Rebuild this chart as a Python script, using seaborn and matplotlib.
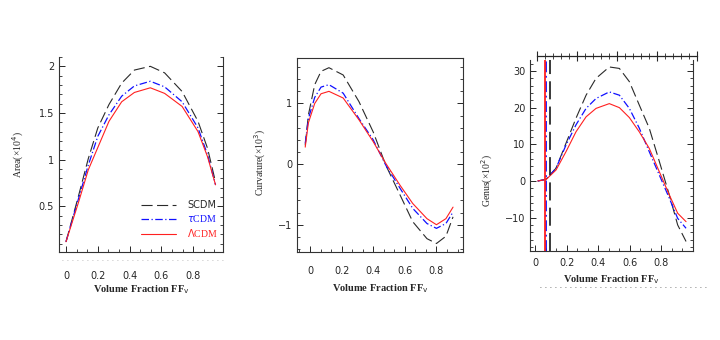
#%% Imports

import numpy as np
import pandas as pd
import matplotlib
matplotlib.use('Agg')
import matplotlib.pyplot as plt
from matplotlib.ticker import MultipleLocator, AutoMinorLocator, FixedLocator
from matplotlib.lines import Line2D
import seaborn as sns

#%% Data

models = ['SCDM', r'$\tau$CDM', r'$\Lambda$CDM']
ff_ticks = [0.0, 0.2, 0.4, 0.6, 0.8]

area_ff = [0.0, 0.08, 0.14, 0.2, 0.27, 0.35, 0.43, 0.53, 0.62, 0.73, 0.83, 0.89, 0.94]
area_scdm = [0.12, 0.62, 1.01, 1.34, 1.59, 1.82, 1.96, 2.0, 1.93, 1.73, 1.41, 1.12, 0.76]
area_tcdm = [0.12, 0.59, 0.94, 1.25, 1.48, 1.68, 1.79, 1.84, 1.78, 1.62, 1.34, 1.05, 0.73]
area_lcdm = [0.12, 0.55, 0.89, 1.13, 1.41, 1.62, 1.72, 1.77, 1.71, 1.57, 1.30, 1.03, 0.73]

curv_ff = [-0.03, -0.01, 0.03, 0.07, 0.12, 0.21, 0.31, 0.40, 0.48, 0.57, 0.65, 0.74, 0.80, 0.86, 0.905]
curv_scdm = [0.31, 0.81, 1.31, 1.53, 1.59, 1.47, 1.03, 0.53, -0.02, -0.51, -0.95, -1.23, -1.31, -1.19, -0.87]
curv_tcdm = [0.34, 0.75, 1.10, 1.27, 1.31, 1.17, 0.75, 0.40, -0.02, -0.40, -0.73, -0.98, -1.06, -0.98, -0.79]
curv_lcdm = [0.28, 0.68, 1.00, 1.16, 1.20, 1.09, 0.73, 0.37, 0.01, -0.35, -0.65, -0.90, -1.00, -0.90, -0.71]

genus_ff = [0.017, 0.07, 0.133, 0.196, 0.259, 0.323, 0.386, 0.47, 0.534, 0.597, 0.66, 0.723, 0.787, 0.85, 0.903, 0.956]
genus_scdm = [0.0, 0.5, 3.5, 10.3, 17.1, 23.4, 28.0, 31.1, 30.7, 27.1, 20.7, 14.4, 5.3, -3.8, -12.0, -16.5]
genus_tcdm = [0.0, 0.4, 3.5, 9.8, 15.3, 19.8, 22.5, 24.3, 23.4, 19.8, 14.4, 8.0, 1.6, -4.7, -10.2, -12.9]
genus_lcdm = [0.0, 0.4, 3.0, 8.0, 13.4, 17.5, 19.8, 21.1, 20.0, 17.3, 13.4, 8.9, 2.5, -3.8, -8.8, -11.1]

# vertical markers in the genus panel
genus_vlines = [0.095, 0.072, 0.063]

#%% Styles

sns.set_style('ticks')
plt.rcParams['font.family'] = ['DejaVu Sans']

colors = ['#2a2a2a', '#1010ff', '#ff2020']
styles = [(0, (10, 4)), (0, (6, 2, 1, 2)), '-']
widths = [0.8, 0.9, 0.8]
serif = 'Liberation Serif'


def draw_panel(ax, ff, series, legend = False):
    for name, vals, c, ls, lw in zip(models, series, colors, styles, widths):
        df = pd.DataFrame({'ff': ff, 'val': vals})
        sns.lineplot(data = df, x = 'ff', y = 'val', ax = ax, color = c, linestyle = ls,
                     linewidth = lw, sort = False, estimator = None, label = name if legend else None)
    ax.set_xlabel('Volume Fraction FF$_{\\rm v}$', family = serif, fontsize = 7.5, fontweight = 'bold')
    ax.tick_params(which = 'both', direction = 'in', left = True, right = True, top = False, labelsize = 7)
    ax.tick_params(which = 'major', length = 4, width = 0.7)
    ax.tick_params(which = 'minor', length = 2.5, width = 0.6)
    ax.xaxis.set_major_locator(FixedLocator(ff_ticks))
    ax.xaxis.set_minor_locator(MultipleLocator(0.2 / 3))
    ax.xaxis.set_major_formatter(plt.FuncFormatter(lambda v, p: '0' if abs(v) < 1e-9 else f'{v:.1f}'))
    for s in ax.spines.values():
        s.set_linewidth(0.8)
        s.set_color('#333333')


fig = plt.figure(figsize = (7.2, 3.4), dpi = 100)

#%% Area

ax1 = fig.add_axes([59/720, 88/340, 164/720, 195/340])
draw_panel(ax1, area_ff, [area_scdm, area_tcdm, area_lcdm], legend = True)
ax1.set_xlim(-0.044, 0.987)
ax1.set_ylim(0.01, 2.1)
ax1.yaxis.set_major_locator(MultipleLocator(0.5))
ax1.yaxis.set_minor_locator(AutoMinorLocator(5))
ax1.set_yticks([0.5, 1.0, 1.5, 2.0])
ax1.set_yticklabels(['0.5', '1', '1.5', '2'])
ax1.spines['top'].set_visible(False)
ax1.tick_params(axis = 'x', pad = 14)
ax1.set_ylabel('Area(\u00d710$^4$)', family = serif, fontsize = 7)
ax1.yaxis.set_label_coords(-0.2, 0.5)
ax1.xaxis.set_label_coords(0.5, -0.16)
leg = ax1.legend(loc = 'upper right', bbox_to_anchor = (1.0, 0.29), frameon = False, fontsize = 7,
                 handlelength = 3.6, handletextpad = 1.2, labelspacing = 0.3, borderpad = 0,
                 labelcolor = 'linecolor')
for t in leg.get_texts()[1:]:
    t.set_family(serif)

#%% Curvature

ax2 = fig.add_axes([297/720, 88/340, 166/720, 194/340])
draw_panel(ax2, curv_ff, [curv_scdm, curv_tcdm, curv_lcdm])
ax2.set_xlim(-0.082, 0.968)
ax2.set_ylim(-1.45, 1.75)
ax2.yaxis.set_major_locator(MultipleLocator(1))
ax2.yaxis.set_minor_locator(AutoMinorLocator(5))
ax2.tick_params(axis = 'x', pad = 10)
ax2.set_ylabel('Curvature(\u00d710$^3$)', family = serif, fontsize = 7)
ax2.yaxis.set_label_coords(-0.175, 0.46)
ax2.xaxis.set_label_coords(0.5, -0.155)

#%% Genus

ax3 = fig.add_axes([530/720, 89/340, 163/720, 191/340])
draw_panel(ax3, genus_ff, [genus_scdm, genus_tcdm, genus_lcdm])
for xv, c, ls in zip(genus_vlines, colors, styles):
    ax3.axvline(xv, color = c, linestyle = ls, linewidth = 1.3)
ax3.set_xlim(-0.032, 1.0)
ax3.set_ylim(-19.1, 33)
ax3.yaxis.set_major_locator(MultipleLocator(10))
ax3.yaxis.set_minor_locator(AutoMinorLocator(5))
ax3.spines['top'].set_visible(False)
ax3.tick_params(axis = 'x', pad = 5)
ax3.set_ylabel('Genus(\u00d710$^2$)', family = serif, fontsize = 7)
ax3.yaxis.set_label_coords(-0.215, 0.37)
ax3.xaxis.set_label_coords(0.5, -0.115)

# stray top scale above the genus panel
axt = fig.add_axes([537/720, 1 - 56/340, 160/720, 0.001])
for k in ['top', 'left', 'right']:
    axt.spines[k].set_visible(False)
axt.spines['bottom'].set_linewidth(0.9)
axt.set_xlim(0, 1)
axt.set_yticks([])
axt.set_xticks([0, 0.25, 0.5, 0.75, 1.0])
axt.xaxis.set_minor_locator(AutoMinorLocator(5))
axt.tick_params(which = 'major', direction = 'inout', length = 7, width = 0.8, labelbottom = False)
axt.tick_params(which = 'minor', direction = 'inout', length = 4, width = 0.6)

# faint dotted rules under the axes
fig.add_artist(Line2D([540/720, 710/720], [1 - 287/340] * 2, color = '#555555', linestyle = (0, (1, 5)), linewidth = 0.6))
fig.add_artist(Line2D([62/720, 223/720], [1 - 260/340] * 2, color = '#aaaaaa', linestyle = (0, (1, 5)), linewidth = 0.6))

fig.savefig('out.png', dpi = 100)
